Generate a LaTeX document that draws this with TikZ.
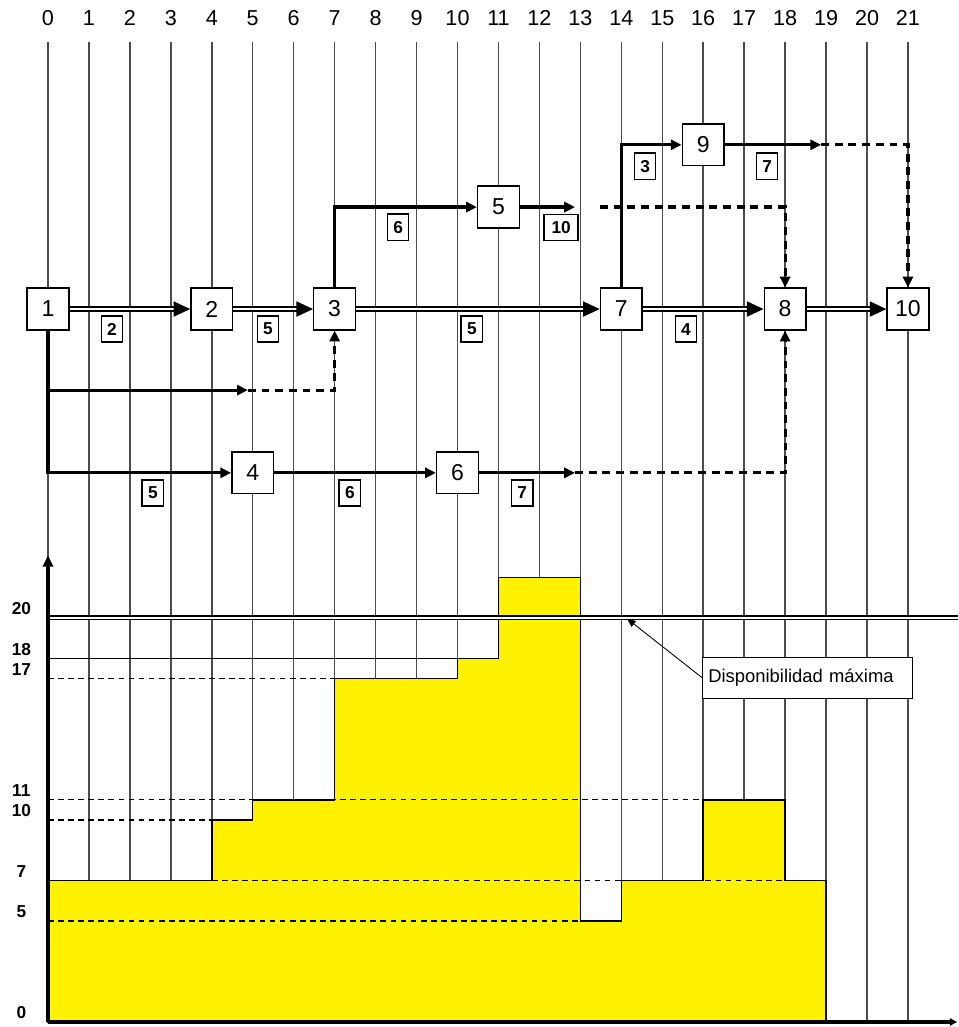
\documentclass[tikz,border=0pt]{standalone}
\usepackage{fontspec}
\setmainfont{Liberation Sans}
\usetikzlibrary{arrows.meta, positioning}

\begin{document}
\begin{tikzpicture}
\tikzstyle{event} = [rectangle, draw=black, line width=1pt, fill=white, minimum size=1.02cm, inner sep=0pt, font=\fontsize{16}{19}\selectfont]
\tikzstyle{dur} = [rectangle, draw=black, line width=1pt, fill=white, minimum width=0.52cm, minimum height=0.64cm, inner sep=1pt, font=\bfseries\fontsize{12}{14}\selectfont]
\tikzstyle{crit} = [line width=0.85pt, double, double distance=2pt, -{Triangle[length=11.5pt,width=10.5pt]}]
\tikzstyle{act} = [line width=2.2pt, -{Triangle[length=7.5pt,width=7pt]}]
\tikzstyle{slack} = [line width=2.2pt, dash pattern=on 5.5pt off 4pt, -{Triangle[length=7.5pt,width=7pt]}]
\tikzstyle{gridline} = [black!70, line width=1pt]
\tikzstyle{refline} = [line width=0.8pt, dash pattern=on 4pt off 3pt]
\tikzstyle{lvl} = [font=\bfseries\fontsize{12}{14}\selectfont]

\useasboundingbox (-1.172,-0.122) rectangle (22.222,24.957);

\foreach \i in {0,...,21} {
  \node (t\i) [font=\fontsize{15}{18}\selectfont] at (\i,24.52) {\i};
  \draw [gridline] (\i,23.93) -- (\i,0);
}

\begin{scope}[yscale=0.4933]
\draw [fill=yellow, line width=1pt] (0,0) -- (0,7) -- (4,7) -- (4,10) -- (5,10) -- (5,11) -- (7,11) -- (7,17) -- (10,17) -- (10,18) -- (11,18) -- (11,22) -- (13,22) -- (13,5) -- (14,5) -- (14,7) -- (16,7) -- (16,11) -- (18,11) -- (18,7) -- (19,7) -- (19,0) -- cycle;
\draw [refline] (0,5) -- (13,5);
\draw [refline] (4,7) -- (18,7);
\draw [refline] (0,10) -- (4,10);
\draw [refline] (0,11) -- (16,11);
\draw [refline] (0,17) -- (10,17);
\draw [line width=1pt] (0,18) -- (11,18);
\draw [line width=0.75pt, double, double distance=2pt] (0,20) -- (22.222,20);
\end{scope}

\foreach \v in {0,5,7,10,11,17,18,20}
  \node (y\v) [lvl] at (-0.65,{\v*0.4933+0.22}) {\v};

\draw [line width=2.2pt, -{Triangle[length=8pt,width=7pt]}] (0,0) -- (0,11.4);
\draw [line width=2.2pt, -{Triangle[length=5pt,width=5pt]}] (0,0) -- (22.2,0);

\node (n1) [event] at (0,17.41) {1};
\node (n2) [event] at (4,17.41) {2};
\node (n3) [event] at (7,17.41) {3};
\node (n7) [event] at (14,17.41) {7};
\node (n8) [event] at (18,17.41) {8};
\node (n10) [event] at (21,17.41) {10};
\node (n5) [event] at (11,19.90) {5};
\node (n9) [event] at (16,21.42) {9};
\node (n4) [event] at (5,13.41) {4};
\node (n6) [event] at (10,13.41) {6};

\coordinate (b13) at (0,15.43);
\coordinate (e13) at (4.88,15.43);
\coordinate (e6) at (12.87,13.41);
\coordinate (e5) at (12.87,19.90);
\coordinate (s5) at (13.48,19.90);
\coordinate (e9) at (18.88,21.42);

\draw [crit] (n1) -- (n2);
\draw [crit] (n2) -- (n3);
\draw [crit] (n3) -- (n7);
\draw [crit] (n7) -- (n8);
\draw [crit] (n8) -- (n10);
\draw [act] (n1.south) |- (n4.west);
\draw [act] (b13) -- (e13);
\draw [slack] (e13) -| (n3.south);
\draw [act] (n4) -- (n6);
\draw [act] (n6) -- (e6);
\draw [slack] (e6) -| (n8.south);
\draw [act] (n3.north) |- (n5.west);
\draw [act] (n5) -- (e5);
\draw [slack] (s5) -| (n8.north);
\draw [act] (n7.north) |- (n9.west);
\draw [act] (n9) -- (e9);
\draw [slack] (e9) -| (n10.north);

\node (d12) [dur] at (1.56,16.92) {2};
\node (d23) [dur] at (5.37,16.92) {5};
\node (d37) [dur] at (10.35,16.92) {5};
\node (d78) [dur] at (15.58,16.92) {4};
\node (d14) [dur] at (2.56,12.92) {5};
\node (d46) [dur] at (7.37,12.92) {6};
\node (d6) [dur] at (11.58,12.92) {7};
\node (d35) [dur] at (8.55,19.41) {6};
\node (d5) [dur, minimum width=0.83cm] at (12.53,19.40) {10};
\node (d79) [dur] at (14.58,20.90) {3};
\node (d9) [dur] at (17.56,20.90) {7};

\node (disp) [draw=black, line width=0.8pt, fill=white, anchor=west, minimum height=1cm, text width=4.85cm, inner xsep=4pt, font=\fontsize{12.8}{15}\selectfont] at (15.97,8.41) {Disponibilidad máxima};
\coordinate (maxpt) at (14.14,9.85);
\draw [line width=0.6pt, -{Triangle[length=6pt,width=5pt]}] (disp.west) -- (maxpt);
\end{tikzpicture}
\end{document}
